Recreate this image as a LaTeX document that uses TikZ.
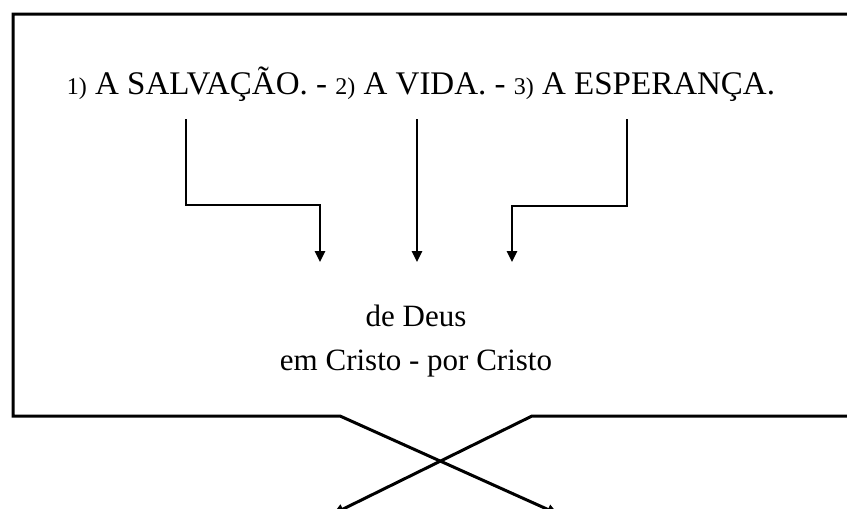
\documentclass[tikz,border=0pt]{standalone}
\usepackage{fontspec}
\setmainfont{Liberation Serif}
\usetikzlibrary{arrows.meta}

\newcommand{\itemnum}[1]{{\fontsize{24}{29}\selectfont #1}}

\begin{document}
\begin{tikzpicture}[x=1pt, y=-1pt, line width=2.5pt, line join=miter,
  conn/.style={line width=2.5pt, -{Triangle[width=10pt,length=11pt]}},
  frame/.style={line width=3pt},
  txt/.style={anchor=base, inner sep=0pt, font=\fontsize{31}{37}\selectfont}]

  %% ════ 文字 ════
  \node[txt, font=\fontsize{33}{40}\selectfont] (titulo) at (421,94) {\itemnum{1)} A SALVAÇÃO. - \itemnum{2)} A VIDA. - \itemnum{3)} A ESPERANÇA.};
  \node[txt] (deus) at (416,326) {de Deus};
  \node[txt] (cristo) at (416,370) {em Cristo - por Cristo};

  %% ════ 箭头起止点 ════
  \coordinate (salvacao) at (186,119);
  \coordinate (vida) at (417,119);
  \coordinate (esperanca) at (627,119);
  \coordinate (alvo1) at (320,262);
  \coordinate (alvo2) at (417,262);
  \coordinate (alvo3) at (512,262);

  \draw[conn] (salvacao) -- ++(0,86) -| (alvo1);
  \draw[conn] (vida) -- (alvo2);
  \draw[conn] (esperanca) -- ++(0,87) -| (alvo3);

  %% ════ 框 + 交叉箭头（右边和下端超出画布）════
  \coordinate (saidaE) at (558,514);
  \coordinate (saidaD) at (333,514);
  \draw[frame, -{Triangle[width=10pt,length=11pt]}] (850,14) -- (13,14) -- (13,416) -- (340,416) -- (saidaE);
  \draw[frame, -{Triangle[width=10pt,length=11pt]}] (850,416) -- (532,416) -- (saidaD);

  % 钉死画布
  \pgfresetboundingbox
  \path[use as bounding box] (0,0) rectangle (847,509);
\end{tikzpicture}
\end{document}
